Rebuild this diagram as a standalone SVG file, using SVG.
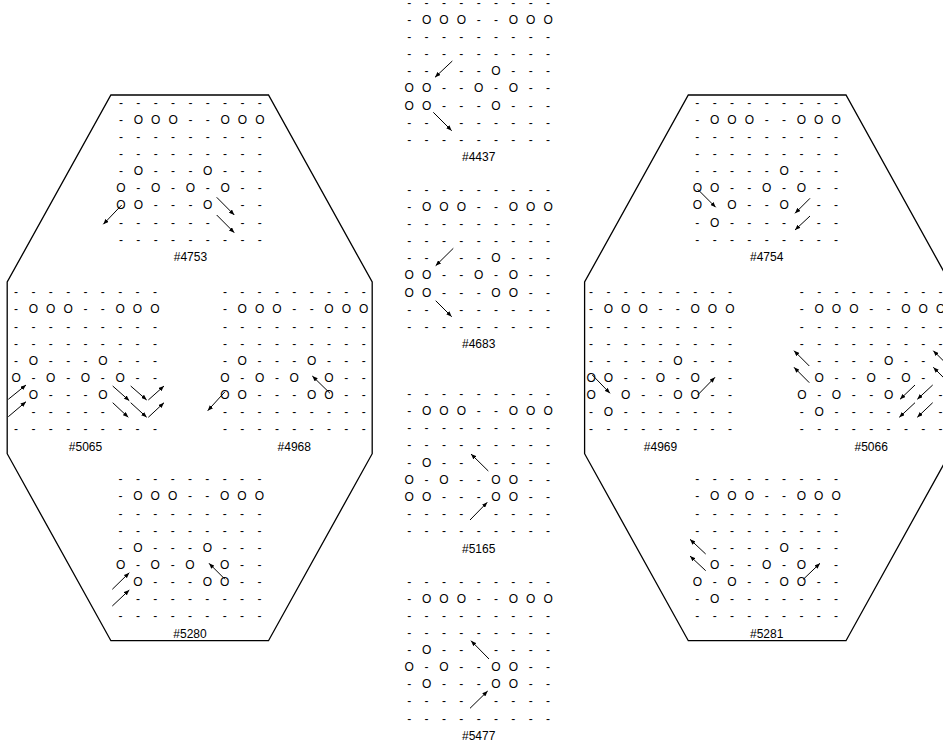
<svg xmlns="http://www.w3.org/2000/svg" width="943" height="747" viewBox="0 0 943 747">
<defs>
<style>
text{font-family:"Liberation Sans",Arial,Helvetica,sans-serif;font-size:12px;fill:#000;text-anchor:middle}
.hex{fill:none;stroke:#000;stroke-width:1.3}
#edges line{stroke:#000;stroke-width:1;marker-end:url(#ah)}
</style>
<marker id="ah" viewBox="0 0 10 8" refX="10" refY="4" markerWidth="5.5" markerHeight="4.4" markerUnits="userSpaceOnUse" orient="auto"><path d="M0,0L10,4L0,8z" fill="#000"/></marker>
</defs>
<rect width="943" height="747" fill="#fff"/>
<g id="hexL"><polygon class="hex" points="110.9,95 268.5,95 372.2,282 372.2,453.7 268.5,640.7 110.9,640.7 7.2,453.7 7.2,282"/></g>
<g id="hexR"><polygon class="hex" points="688.3,95 846,95 949.6,282 949.6,453.7 846,640.7 688.3,640.7 584.6,453.7 584.6,282"/></g>

<g id="n4437" transform="translate(409.25,3.4)">
<text x="0 8.68 17.35 26.03 34.7 43.38 52.05 60.73 69.4 78.08 86.75 95.43 104.1 112.78 121.45 130.13 138.8" y="3.6">- - - - - - - - -</text>
<text x="0 8.68 17.35 26.03 34.7 43.38 52.05 60.73 69.4 78.08 86.75 95.43 104.1 112.78 121.45 130.13 138.8" y="20.7">- O O O - - O O O</text>
<text x="0 8.68 17.35 26.03 34.7 43.38 52.05 60.73 69.4 78.08 86.75 95.43 104.1 112.78 121.45 130.13 138.8" y="37.8">- - - - - - - - -</text>
<text x="0 8.68 17.35 26.03 34.7 43.38 52.05 60.73 69.4 78.08 86.75 95.43 104.1 112.78 121.45 130.13 138.8" y="54.9">- - - - - - - - -</text>
<text x="0 8.68 17.35 26.03 34.7 43.38 52.05 60.73 69.4 78.08 86.75 95.43 104.1 112.78 121.45 130.13 138.8" y="72">- - &#160; - - O - - -</text>
<text x="0 8.68 17.35 26.03 34.7 43.38 52.05 60.73 69.4 78.08 86.75 95.43 104.1 112.78 121.45 130.13 138.8" y="89.1">O O - - O - O - -</text>
<text x="0 8.68 17.35 26.03 34.7 43.38 52.05 60.73 69.4 78.08 86.75 95.43 104.1 112.78 121.45 130.13 138.8" y="106.2">O O - - - O - - -</text>
<text x="0 8.68 17.35 26.03 34.7 43.38 52.05 60.73 69.4 78.08 86.75 95.43 104.1 112.78 121.45 130.13 138.8" y="123.3">- - &#160; - - - - - -</text>
<text x="0 8.68 17.35 26.03 34.7 43.38 52.05 60.73 69.4 78.08 86.75 95.43 104.1 112.78 121.45 130.13 138.8" y="140.4">- - - - - - - - -</text>
<text x="69.4" y="158">#4437</text>
</g>

<g id="n4683" transform="translate(409.25,190.4)">
<text x="0 8.68 17.35 26.03 34.7 43.38 52.05 60.73 69.4 78.08 86.75 95.43 104.1 112.78 121.45 130.13 138.8" y="3.6">- - - - - - - - -</text>
<text x="0 8.68 17.35 26.03 34.7 43.38 52.05 60.73 69.4 78.08 86.75 95.43 104.1 112.78 121.45 130.13 138.8" y="20.7">- O O O - - O O O</text>
<text x="0 8.68 17.35 26.03 34.7 43.38 52.05 60.73 69.4 78.08 86.75 95.43 104.1 112.78 121.45 130.13 138.8" y="37.8">- - - - - - - - -</text>
<text x="0 8.68 17.35 26.03 34.7 43.38 52.05 60.73 69.4 78.08 86.75 95.43 104.1 112.78 121.45 130.13 138.8" y="54.9">- - - - - - - - -</text>
<text x="0 8.68 17.35 26.03 34.7 43.38 52.05 60.73 69.4 78.08 86.75 95.43 104.1 112.78 121.45 130.13 138.8" y="72">- - &#160; - - O - - -</text>
<text x="0 8.68 17.35 26.03 34.7 43.38 52.05 60.73 69.4 78.08 86.75 95.43 104.1 112.78 121.45 130.13 138.8" y="89.1">O O - - O - O - -</text>
<text x="0 8.68 17.35 26.03 34.7 43.38 52.05 60.73 69.4 78.08 86.75 95.43 104.1 112.78 121.45 130.13 138.8" y="106.2">O O - - - O O - -</text>
<text x="0 8.68 17.35 26.03 34.7 43.38 52.05 60.73 69.4 78.08 86.75 95.43 104.1 112.78 121.45 130.13 138.8" y="123.3">- - &#160; - - - - - -</text>
<text x="0 8.68 17.35 26.03 34.7 43.38 52.05 60.73 69.4 78.08 86.75 95.43 104.1 112.78 121.45 130.13 138.8" y="140.4">- - - - - - - - -</text>
<text x="69.4" y="158">#4683</text>
</g>

<g id="n5165" transform="translate(409.25,394.55)">
<text x="0 8.68 17.35 26.03 34.7 43.38 52.05 60.73 69.4 78.08 86.75 95.43 104.1 112.78 121.45 130.13 138.8" y="3.6">- - - - - - - - -</text>
<text x="0 8.68 17.35 26.03 34.7 43.38 52.05 60.73 69.4 78.08 86.75 95.43 104.1 112.78 121.45 130.13 138.8" y="20.7">- O O O - - O O O</text>
<text x="0 8.68 17.35 26.03 34.7 43.38 52.05 60.73 69.4 78.08 86.75 95.43 104.1 112.78 121.45 130.13 138.8" y="37.8">- - - - - - - - -</text>
<text x="0 8.68 17.35 26.03 34.7 43.38 52.05 60.73 69.4 78.08 86.75 95.43 104.1 112.78 121.45 130.13 138.8" y="54.9">- - - - - - - - -</text>
<text x="0 8.68 17.35 26.03 34.7 43.38 52.05 60.73 69.4 78.08 86.75 95.43 104.1 112.78 121.45 130.13 138.8" y="72">- O - - &#160; - - - -</text>
<text x="0 8.68 17.35 26.03 34.7 43.38 52.05 60.73 69.4 78.08 86.75 95.43 104.1 112.78 121.45 130.13 138.8" y="89.1">O - O - - O O - -</text>
<text x="0 8.68 17.35 26.03 34.7 43.38 52.05 60.73 69.4 78.08 86.75 95.43 104.1 112.78 121.45 130.13 138.8" y="106.2">O O - - - O O - -</text>
<text x="0 8.68 17.35 26.03 34.7 43.38 52.05 60.73 69.4 78.08 86.75 95.43 104.1 112.78 121.45 130.13 138.8" y="123.3">- - - - &#160; - - - -</text>
<text x="0 8.68 17.35 26.03 34.7 43.38 52.05 60.73 69.4 78.08 86.75 95.43 104.1 112.78 121.45 130.13 138.8" y="140.4">- - - - - - - - -</text>
<text x="69.4" y="158">#5165</text>
</g>

<g id="n5477" transform="translate(409.25,582.2)">
<text x="0 8.68 17.35 26.03 34.7 43.38 52.05 60.73 69.4 78.08 86.75 95.43 104.1 112.78 121.45 130.13 138.8" y="3.6">- - - - - - - - -</text>
<text x="0 8.68 17.35 26.03 34.7 43.38 52.05 60.73 69.4 78.08 86.75 95.43 104.1 112.78 121.45 130.13 138.8" y="20.7">- O O O - - O O O</text>
<text x="0 8.68 17.35 26.03 34.7 43.38 52.05 60.73 69.4 78.08 86.75 95.43 104.1 112.78 121.45 130.13 138.8" y="37.8">- - - - - - - - -</text>
<text x="0 8.68 17.35 26.03 34.7 43.38 52.05 60.73 69.4 78.08 86.75 95.43 104.1 112.78 121.45 130.13 138.8" y="54.9">- - - - - - - - -</text>
<text x="0 8.68 17.35 26.03 34.7 43.38 52.05 60.73 69.4 78.08 86.75 95.43 104.1 112.78 121.45 130.13 138.8" y="72">- O - - &#160; - - - -</text>
<text x="0 8.68 17.35 26.03 34.7 43.38 52.05 60.73 69.4 78.08 86.75 95.43 104.1 112.78 121.45 130.13 138.8" y="89.1">O - O - - O O - -</text>
<text x="0 8.68 17.35 26.03 34.7 43.38 52.05 60.73 69.4 78.08 86.75 95.43 104.1 112.78 121.45 130.13 138.8" y="106.2">- O - - - O O - -</text>
<text x="0 8.68 17.35 26.03 34.7 43.38 52.05 60.73 69.4 78.08 86.75 95.43 104.1 112.78 121.45 130.13 138.8" y="123.3">- - - - &#160; - - - -</text>
<text x="0 8.68 17.35 26.03 34.7 43.38 52.05 60.73 69.4 78.08 86.75 95.43 104.1 112.78 121.45 130.13 138.8" y="140.4">- - - - - - - - -</text>
<text x="69.4" y="158">#5477</text>
</g>

<g id="n4753" transform="translate(121,103.3)">
<text x="0 8.68 17.35 26.03 34.7 43.38 52.05 60.73 69.4 78.08 86.75 95.43 104.1 112.78 121.45 130.13 138.8" y="3.6">- - - - - - - - -</text>
<text x="0 8.68 17.35 26.03 34.7 43.38 52.05 60.73 69.4 78.08 86.75 95.43 104.1 112.78 121.45 130.13 138.8" y="20.7">- O O O - - O O O</text>
<text x="0 8.68 17.35 26.03 34.7 43.38 52.05 60.73 69.4 78.08 86.75 95.43 104.1 112.78 121.45 130.13 138.8" y="37.8">- - - - - - - - -</text>
<text x="0 8.68 17.35 26.03 34.7 43.38 52.05 60.73 69.4 78.08 86.75 95.43 104.1 112.78 121.45 130.13 138.8" y="54.9">- - - - - - - - -</text>
<text x="0 8.68 17.35 26.03 34.7 43.38 52.05 60.73 69.4 78.08 86.75 95.43 104.1 112.78 121.45 130.13 138.8" y="72">- O - - - O - - -</text>
<text x="0 8.68 17.35 26.03 34.7 43.38 52.05 60.73 69.4 78.08 86.75 95.43 104.1 112.78 121.45 130.13 138.8" y="89.1">O - O - O - O - -</text>
<text x="0 8.68 17.35 26.03 34.7 43.38 52.05 60.73 69.4 78.08 86.75 95.43 104.1 112.78 121.45 130.13 138.8" y="106.2">O O - - - O &#160; - -</text>
<text x="0 8.68 17.35 26.03 34.7 43.38 52.05 60.73 69.4 78.08 86.75 95.43 104.1 112.78 121.45 130.13 138.8" y="123.3">- - - - - - &#160; - -</text>
<text x="0 8.68 17.35 26.03 34.7 43.38 52.05 60.73 69.4 78.08 86.75 95.43 104.1 112.78 121.45 130.13 138.8" y="140.4">- - - - - - - - -</text>
<text x="69.4" y="158">#4753</text>
</g>

<g id="n5065" transform="translate(16.1,292.8)">
<text x="0 8.68 17.35 26.03 34.7 43.38 52.05 60.73 69.4 78.08 86.75 95.43 104.1 112.78 121.45 130.13 138.8" y="3.6">- - - - - - - - -</text>
<text x="0 8.68 17.35 26.03 34.7 43.38 52.05 60.73 69.4 78.08 86.75 95.43 104.1 112.78 121.45 130.13 138.8" y="20.7">- O O O - - O O O</text>
<text x="0 8.68 17.35 26.03 34.7 43.38 52.05 60.73 69.4 78.08 86.75 95.43 104.1 112.78 121.45 130.13 138.8" y="37.8">- - - - - - - - -</text>
<text x="0 8.68 17.35 26.03 34.7 43.38 52.05 60.73 69.4 78.08 86.75 95.43 104.1 112.78 121.45 130.13 138.8" y="54.9">- - - - - - - - -</text>
<text x="0 8.68 17.35 26.03 34.7 43.38 52.05 60.73 69.4 78.08 86.75 95.43 104.1 112.78 121.45 130.13 138.8" y="72">- O - - - O - - -</text>
<text x="0 8.68 17.35 26.03 34.7 43.38 52.05 60.73 69.4 78.08 86.75 95.43 104.1 112.78 121.45 130.13 138.8" y="89.1">O - O - O - O - -</text>
<text x="0 8.68 17.35 26.03 34.7 43.38 52.05 60.73 69.4 78.08 86.75 95.43 104.1 112.78 121.45 130.13 138.8" y="106.2">&#160; O - - - O &#160; &#160; &#160;</text>
<text x="0 8.68 17.35 26.03 34.7 43.38 52.05 60.73 69.4 78.08 86.75 95.43 104.1 112.78 121.45 130.13 138.8" y="123.3">&#160; - - - - - &#160; &#160; &#160;</text>
<text x="0 8.68 17.35 26.03 34.7 43.38 52.05 60.73 69.4 78.08 86.75 95.43 104.1 112.78 121.45 130.13 138.8" y="140.4">- - - - - - - - -</text>
<text x="69.4" y="158">#5065</text>
</g>

<g id="n4968" transform="translate(224.9,292.8)">
<text x="0 8.68 17.35 26.03 34.7 43.38 52.05 60.73 69.4 78.08 86.75 95.43 104.1 112.78 121.45 130.13 138.8" y="3.6">- - - - - - - - -</text>
<text x="0 8.68 17.35 26.03 34.7 43.38 52.05 60.73 69.4 78.08 86.75 95.43 104.1 112.78 121.45 130.13 138.8" y="20.7">- O O O - - O O O</text>
<text x="0 8.68 17.35 26.03 34.7 43.38 52.05 60.73 69.4 78.08 86.75 95.43 104.1 112.78 121.45 130.13 138.8" y="37.8">- - - - - - - - -</text>
<text x="0 8.68 17.35 26.03 34.7 43.38 52.05 60.73 69.4 78.08 86.75 95.43 104.1 112.78 121.45 130.13 138.8" y="54.9">- - - - - - - - -</text>
<text x="0 8.68 17.35 26.03 34.7 43.38 52.05 60.73 69.4 78.08 86.75 95.43 104.1 112.78 121.45 130.13 138.8" y="72">- O - - - O - - -</text>
<text x="0 8.68 17.35 26.03 34.7 43.38 52.05 60.73 69.4 78.08 86.75 95.43 104.1 112.78 121.45 130.13 138.8" y="89.1">O - O - O &#160; O - -</text>
<text x="0 8.68 17.35 26.03 34.7 43.38 52.05 60.73 69.4 78.08 86.75 95.43 104.1 112.78 121.45 130.13 138.8" y="106.2">O O - - - O O - -</text>
<text x="0 8.68 17.35 26.03 34.7 43.38 52.05 60.73 69.4 78.08 86.75 95.43 104.1 112.78 121.45 130.13 138.8" y="123.3">- - - - - - - - -</text>
<text x="0 8.68 17.35 26.03 34.7 43.38 52.05 60.73 69.4 78.08 86.75 95.43 104.1 112.78 121.45 130.13 138.8" y="140.4">- - - - - - - - -</text>
<text x="69.4" y="158">#4968</text>
</g>

<g id="n5280" transform="translate(120.6,479.8)">
<text x="0 8.68 17.35 26.03 34.7 43.38 52.05 60.73 69.4 78.08 86.75 95.43 104.1 112.78 121.45 130.13 138.8" y="3.6">- - - - - - - - -</text>
<text x="0 8.68 17.35 26.03 34.7 43.38 52.05 60.73 69.4 78.08 86.75 95.43 104.1 112.78 121.45 130.13 138.8" y="20.7">- O O O - - O O O</text>
<text x="0 8.68 17.35 26.03 34.7 43.38 52.05 60.73 69.4 78.08 86.75 95.43 104.1 112.78 121.45 130.13 138.8" y="37.8">- - - - - - - - -</text>
<text x="0 8.68 17.35 26.03 34.7 43.38 52.05 60.73 69.4 78.08 86.75 95.43 104.1 112.78 121.45 130.13 138.8" y="54.9">- - - - - - - - -</text>
<text x="0 8.68 17.35 26.03 34.7 43.38 52.05 60.73 69.4 78.08 86.75 95.43 104.1 112.78 121.45 130.13 138.8" y="72">- O - - - O - - -</text>
<text x="0 8.68 17.35 26.03 34.7 43.38 52.05 60.73 69.4 78.08 86.75 95.43 104.1 112.78 121.45 130.13 138.8" y="89.1">O - O - O &#160; O - -</text>
<text x="0 8.68 17.35 26.03 34.7 43.38 52.05 60.73 69.4 78.08 86.75 95.43 104.1 112.78 121.45 130.13 138.8" y="106.2">&#160; O - - - O O - -</text>
<text x="0 8.68 17.35 26.03 34.7 43.38 52.05 60.73 69.4 78.08 86.75 95.43 104.1 112.78 121.45 130.13 138.8" y="123.3">&#160; - - - - - - - -</text>
<text x="0 8.68 17.35 26.03 34.7 43.38 52.05 60.73 69.4 78.08 86.75 95.43 104.1 112.78 121.45 130.13 138.8" y="140.4">- - - - - - - - -</text>
<text x="69.4" y="158">#5280</text>
</g>

<g id="n4754" transform="translate(697.3,103.3)">
<text x="0 8.68 17.35 26.03 34.7 43.38 52.05 60.73 69.4 78.08 86.75 95.43 104.1 112.78 121.45 130.13 138.8" y="3.6">- - - - - - - - -</text>
<text x="0 8.68 17.35 26.03 34.7 43.38 52.05 60.73 69.4 78.08 86.75 95.43 104.1 112.78 121.45 130.13 138.8" y="20.7">- O O O - - O O O</text>
<text x="0 8.68 17.35 26.03 34.7 43.38 52.05 60.73 69.4 78.08 86.75 95.43 104.1 112.78 121.45 130.13 138.8" y="37.8">- - - - - - - - -</text>
<text x="0 8.68 17.35 26.03 34.7 43.38 52.05 60.73 69.4 78.08 86.75 95.43 104.1 112.78 121.45 130.13 138.8" y="54.9">- - - - - - - - -</text>
<text x="0 8.68 17.35 26.03 34.7 43.38 52.05 60.73 69.4 78.08 86.75 95.43 104.1 112.78 121.45 130.13 138.8" y="72">- - - - - O - - -</text>
<text x="0 8.68 17.35 26.03 34.7 43.38 52.05 60.73 69.4 78.08 86.75 95.43 104.1 112.78 121.45 130.13 138.8" y="89.1">O O - - O - O - -</text>
<text x="0 8.68 17.35 26.03 34.7 43.38 52.05 60.73 69.4 78.08 86.75 95.43 104.1 112.78 121.45 130.13 138.8" y="106.2">O &#160; O - - O &#160; - -</text>
<text x="0 8.68 17.35 26.03 34.7 43.38 52.05 60.73 69.4 78.08 86.75 95.43 104.1 112.78 121.45 130.13 138.8" y="123.3">- O - - - - &#160; - -</text>
<text x="0 8.68 17.35 26.03 34.7 43.38 52.05 60.73 69.4 78.08 86.75 95.43 104.1 112.78 121.45 130.13 138.8" y="140.4">- - - - - - - - -</text>
<text x="69.4" y="158">#4754</text>
</g>

<g id="n4969" transform="translate(591.1,292.8)">
<text x="0 8.68 17.35 26.03 34.7 43.38 52.05 60.73 69.4 78.08 86.75 95.43 104.1 112.78 121.45 130.13 138.8" y="3.6">- - - - - - - - -</text>
<text x="0 8.68 17.35 26.03 34.7 43.38 52.05 60.73 69.4 78.08 86.75 95.43 104.1 112.78 121.45 130.13 138.8" y="20.7">- O O O - - O O O</text>
<text x="0 8.68 17.35 26.03 34.7 43.38 52.05 60.73 69.4 78.08 86.75 95.43 104.1 112.78 121.45 130.13 138.8" y="37.8">- - - - - - - - -</text>
<text x="0 8.68 17.35 26.03 34.7 43.38 52.05 60.73 69.4 78.08 86.75 95.43 104.1 112.78 121.45 130.13 138.8" y="54.9">- - - - - - - - -</text>
<text x="0 8.68 17.35 26.03 34.7 43.38 52.05 60.73 69.4 78.08 86.75 95.43 104.1 112.78 121.45 130.13 138.8" y="72">- - - - - O - - -</text>
<text x="0 8.68 17.35 26.03 34.7 43.38 52.05 60.73 69.4 78.08 86.75 95.43 104.1 112.78 121.45 130.13 138.8" y="89.1">O O - - O - O &#160; -</text>
<text x="0 8.68 17.35 26.03 34.7 43.38 52.05 60.73 69.4 78.08 86.75 95.43 104.1 112.78 121.45 130.13 138.8" y="106.2">O &#160; O - - O O - -</text>
<text x="0 8.68 17.35 26.03 34.7 43.38 52.05 60.73 69.4 78.08 86.75 95.43 104.1 112.78 121.45 130.13 138.8" y="123.3">- O - - - - - - -</text>
<text x="0 8.68 17.35 26.03 34.7 43.38 52.05 60.73 69.4 78.08 86.75 95.43 104.1 112.78 121.45 130.13 138.8" y="140.4">- - - - - - - - -</text>
<text x="69.4" y="158">#4969</text>
</g>

<g id="n5066" transform="translate(801.8,292.8)">
<text x="0 8.68 17.35 26.03 34.7 43.38 52.05 60.73 69.4 78.08 86.75 95.43 104.1 112.78 121.45 130.13 138.8" y="3.6">- - - - - - - - -</text>
<text x="0 8.68 17.35 26.03 34.7 43.38 52.05 60.73 69.4 78.08 86.75 95.43 104.1 112.78 121.45 130.13 138.8" y="20.7">- O O O - - O O O</text>
<text x="0 8.68 17.35 26.03 34.7 43.38 52.05 60.73 69.4 78.08 86.75 95.43 104.1 112.78 121.45 130.13 138.8" y="37.8">- - - - - - - - -</text>
<text x="0 8.68 17.35 26.03 34.7 43.38 52.05 60.73 69.4 78.08 86.75 95.43 104.1 112.78 121.45 130.13 138.8" y="54.9">- - - - - - - - -</text>
<text x="0 8.68 17.35 26.03 34.7 43.38 52.05 60.73 69.4 78.08 86.75 95.43 104.1 112.78 121.45 130.13 138.8" y="72">&#160; - - - - O - - &#160;</text>
<text x="0 8.68 17.35 26.03 34.7 43.38 52.05 60.73 69.4 78.08 86.75 95.43 104.1 112.78 121.45 130.13 138.8" y="89.1">&#160; O - - O - O - &#160;</text>
<text x="0 8.68 17.35 26.03 34.7 43.38 52.05 60.73 69.4 78.08 86.75 95.43 104.1 112.78 121.45 130.13 138.8" y="106.2">O - O - - O &#160; &#160; -</text>
<text x="0 8.68 17.35 26.03 34.7 43.38 52.05 60.73 69.4 78.08 86.75 95.43 104.1 112.78 121.45 130.13 138.8" y="123.3">- O - - - - &#160; &#160; -</text>
<text x="0 8.68 17.35 26.03 34.7 43.38 52.05 60.73 69.4 78.08 86.75 95.43 104.1 112.78 121.45 130.13 138.8" y="140.4">- - - - - - - - -</text>
<text x="69.4" y="158">#5066</text>
</g>

<g id="n5281" transform="translate(697.3,479.8)">
<text x="0 8.68 17.35 26.03 34.7 43.38 52.05 60.73 69.4 78.08 86.75 95.43 104.1 112.78 121.45 130.13 138.8" y="3.6">- - - - - - - - -</text>
<text x="0 8.68 17.35 26.03 34.7 43.38 52.05 60.73 69.4 78.08 86.75 95.43 104.1 112.78 121.45 130.13 138.8" y="20.7">- O O O - - O O O</text>
<text x="0 8.68 17.35 26.03 34.7 43.38 52.05 60.73 69.4 78.08 86.75 95.43 104.1 112.78 121.45 130.13 138.8" y="37.8">- - - - - - - - -</text>
<text x="0 8.68 17.35 26.03 34.7 43.38 52.05 60.73 69.4 78.08 86.75 95.43 104.1 112.78 121.45 130.13 138.8" y="54.9">- - - - - - - - -</text>
<text x="0 8.68 17.35 26.03 34.7 43.38 52.05 60.73 69.4 78.08 86.75 95.43 104.1 112.78 121.45 130.13 138.8" y="72">&#160; - - - - O - - -</text>
<text x="0 8.68 17.35 26.03 34.7 43.38 52.05 60.73 69.4 78.08 86.75 95.43 104.1 112.78 121.45 130.13 138.8" y="89.1">&#160; O - - O - O &#160; -</text>
<text x="0 8.68 17.35 26.03 34.7 43.38 52.05 60.73 69.4 78.08 86.75 95.43 104.1 112.78 121.45 130.13 138.8" y="106.2">O - O - - O O - -</text>
<text x="0 8.68 17.35 26.03 34.7 43.38 52.05 60.73 69.4 78.08 86.75 95.43 104.1 112.78 121.45 130.13 138.8" y="123.3">- O - - - - - - -</text>
<text x="0 8.68 17.35 26.03 34.7 43.38 52.05 60.73 69.4 78.08 86.75 95.43 104.1 112.78 121.45 130.13 138.8" y="140.4">- - - - - - - - -</text>
<text x="69.4" y="158">#5281</text>
</g>

<g id="edges">
<line x1="452.3" y1="61" x2="435" y2="77.3"/>
<line x1="433.3" y1="112.3" x2="451.7" y2="130.7"/>
<line x1="453.3" y1="248.3" x2="435.7" y2="265.7"/>
<line x1="435.7" y1="300.7" x2="451.7" y2="316.7"/>
<line x1="488.3" y1="471" x2="471" y2="454"/>
<line x1="470" y1="520" x2="487.3" y2="502.3"/>
<line x1="489" y1="659" x2="471" y2="640.7"/>
<line x1="470" y1="708.3" x2="487.7" y2="691"/>
<line x1="121.7" y1="205" x2="103.3" y2="224.3"/>
<line x1="216.7" y1="197.3" x2="234.3" y2="215"/>
<line x1="216.7" y1="215" x2="234.3" y2="232.7"/>
<line x1="8.3" y1="399.3" x2="26" y2="385"/>
<line x1="8.3" y1="416.7" x2="26" y2="401.7"/>
<line x1="112.7" y1="386" x2="129.3" y2="400.7"/>
<line x1="130.7" y1="386" x2="146.7" y2="400"/>
<line x1="148.3" y1="400" x2="164" y2="386"/>
<line x1="112.7" y1="402.7" x2="128.3" y2="417.3"/>
<line x1="130.7" y1="402.7" x2="146.7" y2="417.3"/>
<line x1="148.3" y1="417.3" x2="164" y2="402.7"/>
<line x1="225" y1="391.7" x2="207.7" y2="410.7"/>
<line x1="330" y1="393.3" x2="312.3" y2="376"/>
<line x1="112.3" y1="589.3" x2="129.3" y2="572.7"/>
<line x1="112.3" y1="606" x2="129.3" y2="590"/>
<line x1="225" y1="579.3" x2="209" y2="563.3"/>
<line x1="697.7" y1="189.3" x2="715.7" y2="207.3"/>
<line x1="810" y1="198.3" x2="795" y2="213.3"/>
<line x1="810" y1="216" x2="795" y2="230"/>
<line x1="592.3" y1="375" x2="610" y2="393.3"/>
<line x1="697.7" y1="395" x2="715" y2="377.3"/>
<line x1="809.3" y1="366" x2="794" y2="350.7"/>
<line x1="809.3" y1="382.7" x2="794" y2="367.3"/>
<line x1="948.6" y1="366" x2="933.3" y2="350.7"/>
<line x1="948.6" y1="382.7" x2="933.3" y2="367.3"/>
<line x1="915" y1="385" x2="900" y2="399.3"/>
<line x1="932.7" y1="385" x2="917.3" y2="399.3"/>
<line x1="915" y1="402.7" x2="899.3" y2="417.3"/>
<line x1="932.7" y1="402.7" x2="917.3" y2="417.3"/>
<line x1="705.7" y1="554" x2="690" y2="539.3"/>
<line x1="705.7" y1="570.7" x2="690" y2="556"/>
<line x1="803.3" y1="579.3" x2="820" y2="563.3"/>
</g>
</svg>
